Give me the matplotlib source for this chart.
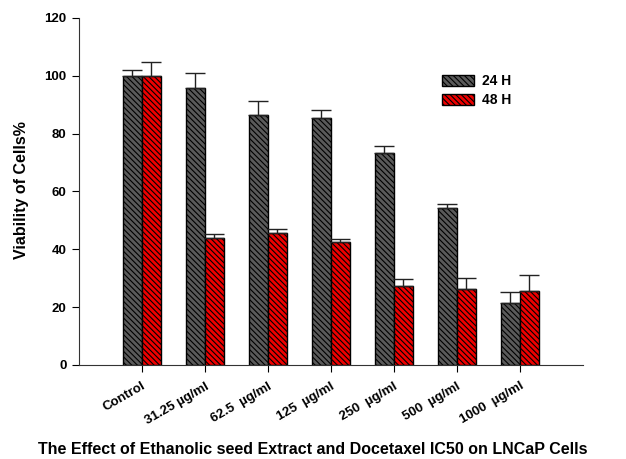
import numpy as np
import matplotlib.pyplot as plt

plt.rcParams['font.family'] = ['Liberation Sans', 'DejaVu Sans']
plt.rcParams['font.weight'] = 'bold'
plt.rcParams['hatch.linewidth'] = 0.8
plt.rcParams['hatch.color'] = 'black'

# viability data (mean and upper SD) for LNCaP cells
labels = ['Control', '31.25 µg/ml', '62.5  µg/ml', '125  µg/ml',
          '250  µg/ml', '500  µg/ml', '1000  µg/ml']
h24 = [100.0, 95.7, 86.4, 85.4, 73.2, 54.3, 21.5]
h24_err = [2.0, 5.2, 4.8, 2.8, 2.4, 1.3, 3.7]
h48 = [100.0, 43.9, 45.5, 42.5, 27.4, 26.2, 25.7]
h48_err = [4.8, 1.4, 1.5, 1.2, 2.3, 3.8, 5.4]

x = np.arange(len(labels))
w = 0.3

fig = plt.figure(figsize=(6.26, 4.59), dpi=100)
ax = fig.add_axes([0.126, 0.205, 0.805, 0.756])

ekw = dict(ecolor='#222222', elinewidth=1, capsize=7, capthick=1)
ax.bar(x - w/2, h24, w, color='#5a5a5a', edgecolor='black', linewidth=1,
       hatch='\\' * 6, label='24 H',
       yerr=[np.zeros(len(h24)), h24_err], error_kw=ekw)
ax.bar(x + w/2, h48, w, color='#ee0000', edgecolor='black', linewidth=1,
       hatch='\\' * 6, label='48 H',
       yerr=[np.zeros(len(h48)), h48_err], error_kw=ekw)

ax.set_xlim(-1, 7)
ax.set_ylim(0, 120)
ax.set_yticks(range(0, 121, 20))
ax.set_xticks(x)
ax.set_xticklabels(labels, rotation=30, ha='right', rotation_mode='anchor',
                   fontsize=9.5, fontweight='bold')
ax.tick_params(axis='y', labelsize=9.5, direction='out', length=5, pad=4)
ax.tick_params(axis='x', direction='out', length=5, pad=6)
for s in ['top', 'right']:
    ax.spines[s].set_visible(False)
for s in ['left', 'bottom']:
    ax.spines[s].set_color('#333333')

fig.text(0.035, 0.585, 'Viability of Cells%', rotation=90, ha='center',
         va='center', fontsize=11.5, fontweight='bold')
fig.text(0.5, 0.02, 'The Effect of Ethanolic seed Extract and Docetaxel IC50 on LNCaP Cells',
         ha='center', va='center', fontsize=11.5, fontweight='bold')

ax.legend(loc='upper left', bbox_to_anchor=(0.696, 0.873), frameon=False,
          fontsize=10, handlelength=2.3, handleheight=0.8, labelspacing=0.35,
          handletextpad=0.6)

fig.savefig('out.png', dpi=100)
